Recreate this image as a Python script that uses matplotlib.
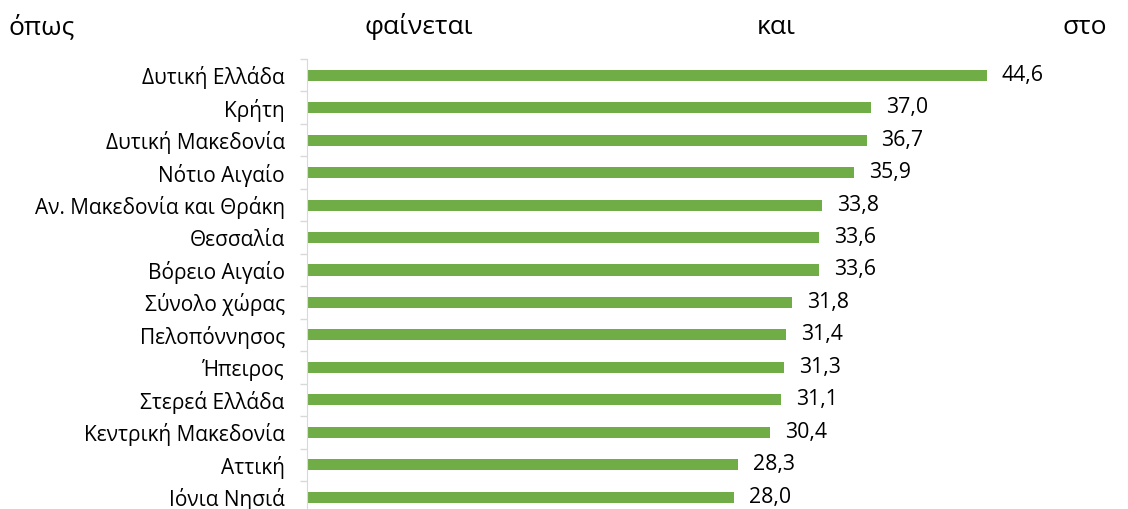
import numpy as np
import matplotlib
matplotlib.use("Agg")
import matplotlib.pyplot as plt

# data, top to bottom as in the reference
regions = [
    "Δυτική Ελλάδα", "Κρήτη", "Δυτική Μακεδονία", "Νότιο Αιγαίο",
    "Αν. Μακεδονία και Θράκη", "Θεσσαλία", "Βόρειο Αιγαίο", "Σύνολο χώρας",
    "Πελοπόννησος", "Ήπειρος", "Στερεά Ελλάδα", "Κεντρική Μακεδονία",
    "Αττική", "Ιόνια Νησιά",
]
values = [44.6, 37.0, 36.7, 35.9, 33.8, 33.6, 33.6, 31.8, 31.4, 31.3, 31.1, 30.4, 28.3, 28.0]
header_words = ["όπως", "φαίνεται", "και", "στο"]

plt.rcParams['font.family'] = ['Open Sans', 'DejaVu Sans']

W, H = 1128, 509
fig = plt.figure(figsize=(W / 100, H / 100), dpi=100)

# axes placed in pixel terms: left spine at x=307, rows from y=59 down
x0, x1 = 307, 1110
y_top, row_h = 59, 32.46
y_bot = y_top + row_h * len(regions)
ax = fig.add_axes([x0 / W, (H - y_bot) / H, (x1 - x0) / W, (y_bot - y_top) / H])

scale = (987 - 307) / 44.6
xmax = (x1 - x0) / scale

y = np.arange(len(regions))
ax.barh(y, values, height=0.34, color="#70AD47")
ax.set_ylim(len(regions) - 0.5, -0.5)
ax.set_xlim(0, xmax)

for yi, v in zip(y, values):
    ax.text(v + 15 / scale, yi, f"{v:.1f}".replace(".", ","), va="center", ha="left",
            fontsize=15.3, color="#000000")

ax.set_yticks(y)
ax.set_yticklabels(regions, fontsize=15)
ax.tick_params(axis="y", which="major", length=0, pad=16)
ax.set_yticks(np.arange(-0.5, len(regions), 1), minor=True)
ax.tick_params(axis="y", which="minor", length=5, color="#D9D9D9", width=1)
ax.set_xticks([])

for s in ["top", "right", "bottom"]:
    ax.spines[s].set_visible(False)
ax.spines["left"].set_color("#D9D9D9")

# header line of justified text above the chart
xs = [8, 365, 757, 1063]
for word, xp in zip(header_words, xs):
    fig.text(xp / W, 1 - 27 / H, word, fontsize=19, va="center", ha="left")

fig.savefig("out.png", dpi=100)
